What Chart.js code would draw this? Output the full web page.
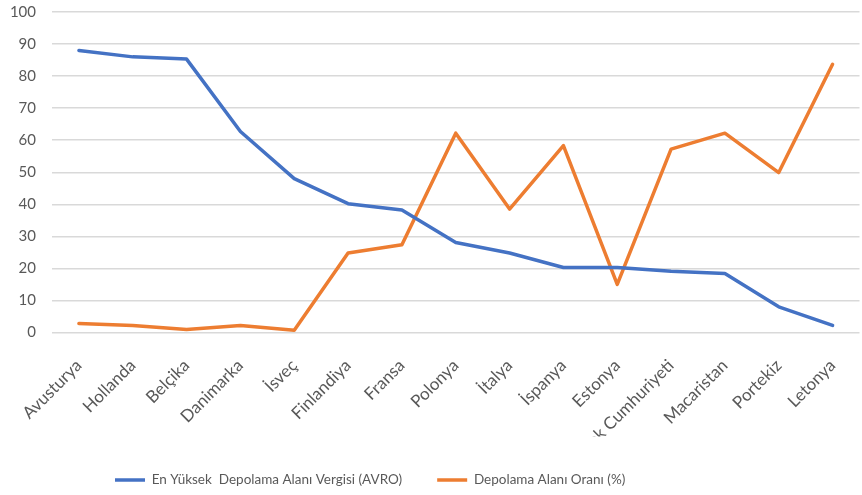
<!DOCTYPE html>
<html>
<head>
<meta charset="utf-8">
<script src="https://cdn.jsdelivr.net/npm/chart.js@4/dist/chart.umd.min.js"></script>
<style>
  html, body { margin: 0; padding: 0; background: #ffffff; }
  #wrap { width: 862px; height: 495px; }
</style>
</head>
<body>
<div id="wrap"><canvas id="c" width="862" height="495"></canvas></div>
<script>
const categories = ["Avusturya", "Hollanda", "Belçika", "Danimarka", "İsveç", "Finlandiya", "Fransa", "Polonya", "İtalya", "İspanya", "Estonya", "Çek Cumhuriyeti", "Macaristan", "Portekiz", "Letonya"];
const taxValues = [88, 86, 85.3, 62.7, 48, 40.2, 38.2, 28.1, 24.8, 20.3, 20.3, 19.1, 18.4, 8, 2.2];
const rateValues = [2.8, 2.2, 0.9, 2.2, 0.7, 24.8, 27.4, 62.2, 38.5, 58.3, 15, 57.2, 62.2, 49.9, 83.7];
const seriesNames = ["En Yüksek  Depolama Alanı Vergisi (AVRO)", "Depolama Alanı Oranı (%)"];
const yTicks = [0, 10, 20, 30, 40, 50, 60, 70, 80, 90, 100];

const FONT = "Lato, 'Open Sans', sans-serif";
const TEXT = "#595959";

const legendShift = {
  id: 'legendShift',
  afterLayout(chart) {
    const lg = chart.legend;
    if (!lg || lg._patched) return;
    const orig = lg.draw.bind(lg);
    lg.draw = function (area) {
      const ctx = chart.ctx;
      const hb = lg.legendHitBoxes && lg.legendHitBoxes[0];
      const dx = hb ? 115 - hb.left : 0;
      const dy = hb ? 480 - (hb.top + hb.height / 2) : 0;
      ctx.save();
      ctx.translate(dx, dy);
      orig(area);
      ctx.restore();
    };
    lg._patched = true;
  }
};

new Chart(document.getElementById('c'), {
  type: 'line',
  data: {
    labels: categories,
    datasets: [
      {
        label: seriesNames[0],
        data: taxValues,
        borderColor: '#4472c4',
        backgroundColor: '#4472c4',
        borderWidth: 3.5,
        pointRadius: 0,
        tension: 0,
        borderJoinStyle: 'round',
        borderCapStyle: 'round',
        pointStyle: 'line'
      },
      {
        label: seriesNames[1],
        data: rateValues,
        borderColor: '#ed7d31',
        backgroundColor: '#ed7d31',
        borderWidth: 3.5,
        pointRadius: 0,
        tension: 0,
        borderJoinStyle: 'round',
        borderCapStyle: 'round',
        pointStyle: 'line'
      }
    ]
  },
  options: {
    responsive: false,
    animation: false,
    layout: { padding: { top: 0, left: 0, right: 0, bottom: 0 } },
    plugins: {
      tooltip: { enabled: false },
      legend: {
        position: 'bottom',
        labels: {
          usePointStyle: true,
          pointStyleWidth: 30,
          boxHeight: 3,
          padding: 35,
          color: TEXT,
          font: { family: FONT, size: 13.5 }
        }
      }
    },
    scales: {
      x: {
        offset: true,
        grid: { display: false },
        border: { display: false },
        ticks: {
          autoSkip: false,
          minRotation: 45,
          maxRotation: 45,
          color: TEXT,
          padding: 15,
          font: { family: FONT, size: 17 }
        },
        afterFit(scale) { scale.height = 104; }
      },
      y: {
        min: 0,
        max: 100,
        afterBuildTicks(scale) { scale.ticks = yTicks.map(v => ({ value: v })); },
        grid: { color: '#d9d9d9', lineWidth: 1.5, drawTicks: false },
        border: { display: false },
        ticks: {
          color: TEXT,
          padding: 16,
          font: { family: FONT, size: 15 }
        },
        afterFit(scale) {
          scale.width = 52;
          scale.paddingTop = 12;
          scale.paddingBottom = 0;
        }
      }
    }
  },
  plugins: [legendShift]
});
</script>
</body>
</html>
